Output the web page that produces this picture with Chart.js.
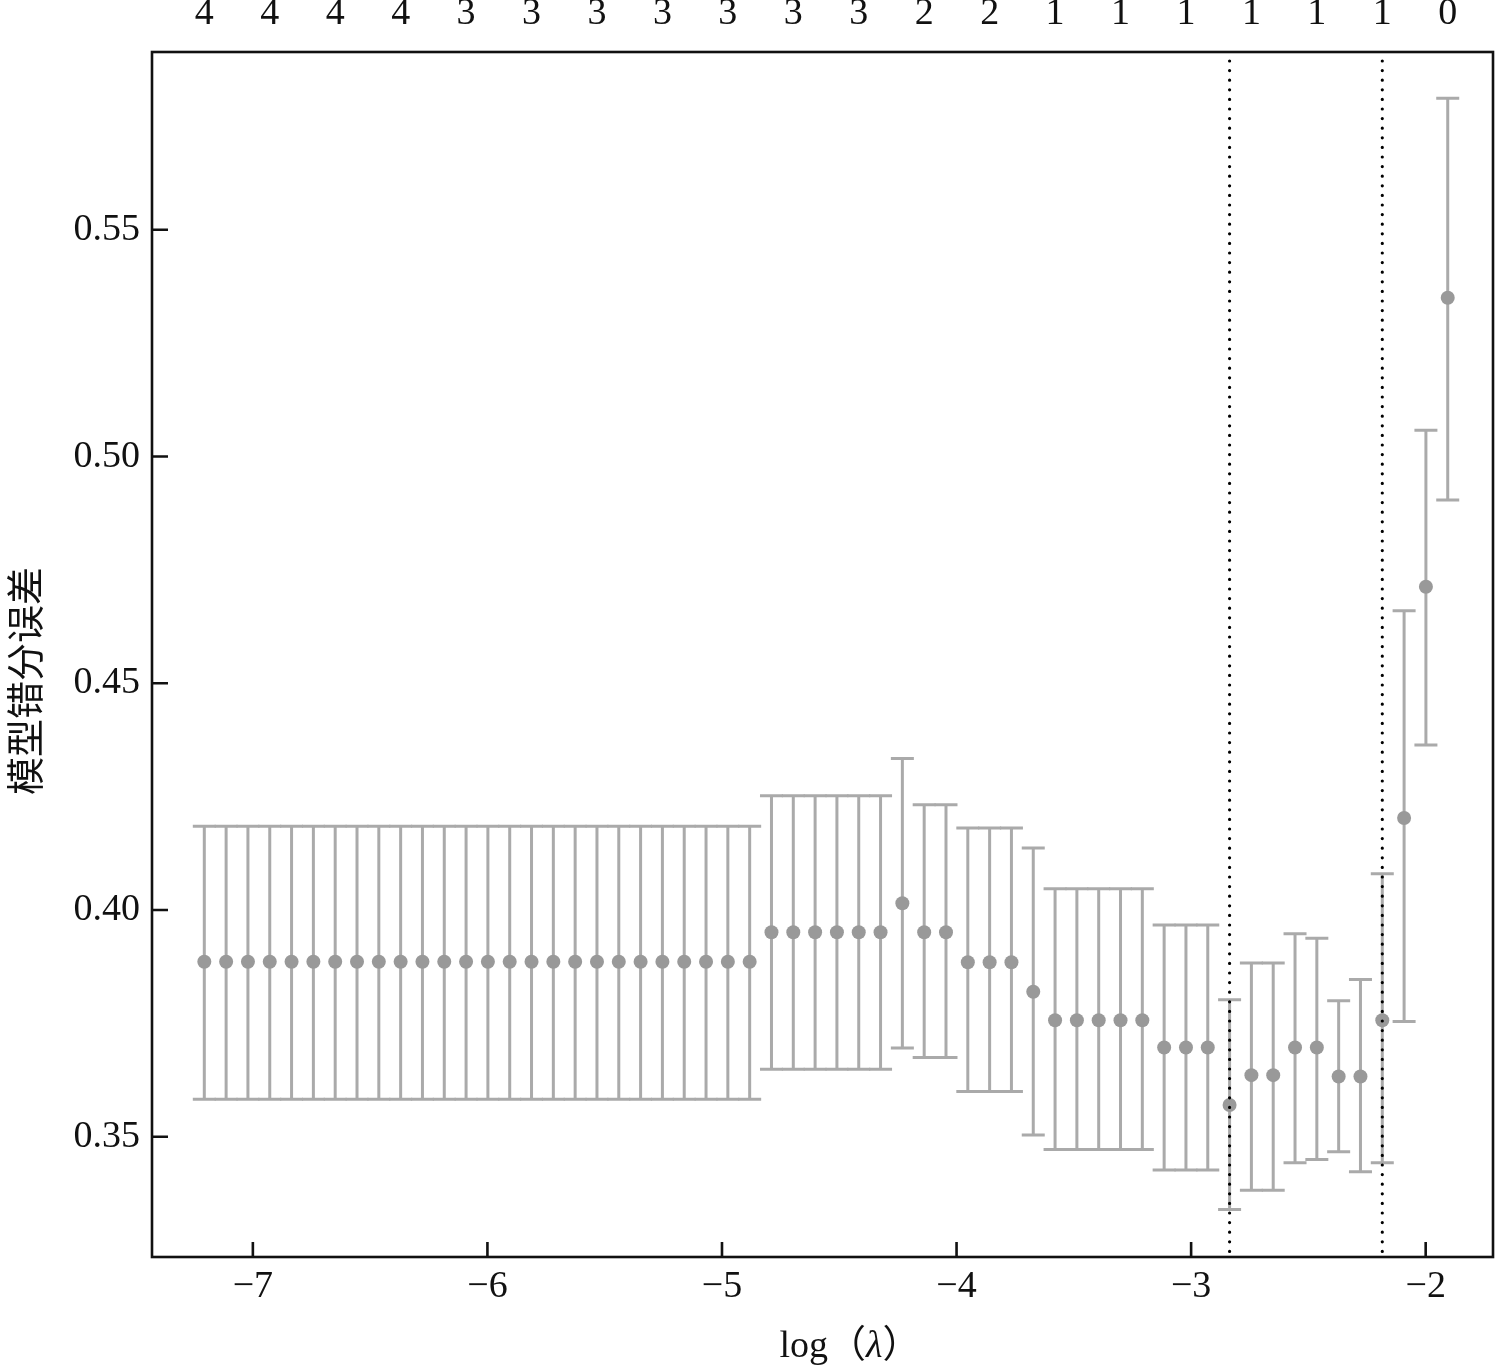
<!DOCTYPE html>
<html>
<head>
<meta charset="utf-8">
<title>cv lasso</title>
<script src="https://cdn.jsdelivr.net/npm/chart.js@4.4.0/dist/chart.umd.min.js"></script>
<style>
  html, body { margin: 0; padding: 0; background: #fff; }
  #wrap { width: 1500px; height: 1367px; }
</style>
</head>
<body>
<div id="wrap"><canvas id="cvChart"></canvas></div>
<script>
// --- Datos ---
const logLambda = [
  -7.207, -7.114, -7.021, -6.928, -6.835, -6.742, -6.649, -6.556, -6.463, -6.370,
  -6.277, -6.184, -6.091, -5.998, -5.905, -5.812, -5.719, -5.626, -5.533, -5.440,
  -5.347, -5.254, -5.161, -5.068, -4.975, -4.882, -4.789, -4.696, -4.603, -4.510,
  -4.417, -4.324, -4.231, -4.138, -4.045, -3.952, -3.859, -3.766, -3.673, -3.580,
  -3.487, -3.394, -3.301, -3.208, -3.115, -3.022, -2.929, -2.836, -2.743, -2.650,
  -2.557, -2.464, -2.371, -2.278, -2.185, -2.092, -1.999, -1.906
];
const cvMean = [
  0.3886, 0.3886, 0.3886, 0.3886, 0.3886, 0.3886, 0.3886, 0.3886, 0.3886, 0.3886,
  0.3886, 0.3886, 0.3886, 0.3886, 0.3886, 0.3886, 0.3886, 0.3886, 0.3886, 0.3886,
  0.3886, 0.3886, 0.3886, 0.3886, 0.3886, 0.3886, 0.3951, 0.3951, 0.3951, 0.3951,
  0.3951, 0.3951, 0.4015, 0.3951, 0.3951, 0.3885, 0.3885, 0.3885, 0.3820, 0.3757,
  0.3757, 0.3757, 0.3757, 0.3757, 0.3697, 0.3697, 0.3697, 0.3570, 0.3636, 0.3636,
  0.3697, 0.3697, 0.3633, 0.3633, 0.3757, 0.4203, 0.4713, 0.5350
];
const cvUpper = [
  0.4185, 0.4185, 0.4185, 0.4185, 0.4185, 0.4185, 0.4185, 0.4185, 0.4185, 0.4185,
  0.4185, 0.4185, 0.4185, 0.4185, 0.4185, 0.4185, 0.4185, 0.4185, 0.4185, 0.4185,
  0.4185, 0.4185, 0.4185, 0.4185, 0.4185, 0.4185, 0.4252, 0.4252, 0.4252, 0.4252,
  0.4252, 0.4252, 0.4334, 0.4232, 0.4232, 0.4181, 0.4181, 0.4181, 0.4137, 0.4047,
  0.4047, 0.4047, 0.4047, 0.4047, 0.3967, 0.3967, 0.3967, 0.3802, 0.3883, 0.3883,
  0.3948, 0.3938, 0.3800, 0.3847, 0.4080, 0.4660, 0.5058, 0.5790
];
const cvLower = [
  0.3583, 0.3583, 0.3583, 0.3583, 0.3583, 0.3583, 0.3583, 0.3583, 0.3583, 0.3583,
  0.3583, 0.3583, 0.3583, 0.3583, 0.3583, 0.3583, 0.3583, 0.3583, 0.3583, 0.3583,
  0.3583, 0.3583, 0.3583, 0.3583, 0.3583, 0.3583, 0.3649, 0.3649, 0.3649, 0.3649,
  0.3649, 0.3649, 0.3696, 0.3675, 0.3675, 0.3600, 0.3600, 0.3600, 0.3504, 0.3472,
  0.3472, 0.3472, 0.3472, 0.3472, 0.3427, 0.3427, 0.3427, 0.3340, 0.3382, 0.3382,
  0.3443, 0.3450, 0.3467, 0.3423, 0.3443, 0.3754, 0.4364, 0.4904
];

// eje superior: nº de variables (cada 3 lambdas)
const topTickIdx = [0, 3, 6, 9, 12, 15, 18, 21, 24, 27, 30, 33, 36, 39, 42, 45, 48, 51, 54, 57];
const topLabels  = ['4','4','4','4','3','3','3','3','3','3','3','2','2','1','1','1','1','1','1','0'];

const xTicks = [-7, -6, -5, -4, -3, -2];
const yTicks = [0.35, 0.40, 0.45, 0.50, 0.55];
const vLines = [-2.836, -2.185];   // lambda.min, lambda.1se

const X_MIN = -7.430, X_MAX = -1.713;
const Y_MIN = 0.3235, Y_MAX = 0.5892;

const serif = "'Liberation Serif', 'DejaVu Serif', serif";
const cjk = "'Noto Sans CJK SC', sans-serif";

// --- Plugins ---
const errorBars = {
  id: 'errorBars',
  beforeDatasetsDraw(chart) {
    const { ctx, scales: { x, y } } = chart;
    const cap = 11.5;
    ctx.save();
    ctx.strokeStyle = '#aaaaaa';
    ctx.lineWidth = 3;
    logLambda.forEach((v, i) => {
      const px = x.getPixelForValue(v);
      const pt = y.getPixelForValue(cvUpper[i]);
      const pb = y.getPixelForValue(cvLower[i]);
      ctx.beginPath();
      ctx.moveTo(px, pt); ctx.lineTo(px, pb);
      ctx.moveTo(px - cap, pt); ctx.lineTo(px + cap, pt);
      ctx.moveTo(px - cap, pb); ctx.lineTo(px + cap, pb);
      ctx.stroke();
    });
    ctx.restore();
  }
};

const frame = {
  id: 'frame',
  afterDatasetsDraw(chart) {
    const { ctx, chartArea: a, scales: { x } } = chart;
    // líneas punteadas verticales
    ctx.save();
    ctx.strokeStyle = '#000';
    ctx.lineWidth = 3.2;
    ctx.lineCap = 'round';
    ctx.setLineDash([0, 9.6]);
    vLines.forEach(v => {
      const px = x.getPixelForValue(v);
      ctx.beginPath();
      ctx.moveTo(px, a.top + 9);
      ctx.lineTo(px, a.bottom - 2);
      ctx.stroke();
    });
    ctx.restore();
  },
  afterDraw(chart) {
    const { ctx, chartArea: a, scales: { x, y } } = chart;
    ctx.save();
    ctx.strokeStyle = '#111';
    ctx.lineWidth = 2.6;
    ctx.strokeRect(a.left, a.top, a.right - a.left, a.bottom - a.top);
    // ticks hacia dentro
    ctx.beginPath();
    xTicks.forEach(v => {
      const px = x.getPixelForValue(v);
      ctx.moveTo(px, a.bottom); ctx.lineTo(px, a.bottom - 15);
    });
    yTicks.forEach(v => {
      const py = y.getPixelForValue(v);
      ctx.moveTo(a.left, py); ctx.lineTo(a.left + 16, py);
    });
    ctx.stroke();

    // título eje y
    ctx.fillStyle = '#111';
    ctx.save();
    ctx.translate(25, 681);
    ctx.rotate(-Math.PI / 2);
    ctx.font = `38px ${cjk}`;
    ctx.textAlign = 'center';
    ctx.textBaseline = 'middle';
    ctx.fillText('模型错分误差', 0, 0);
    ctx.restore();

    // título eje x: log（λ）
    const parts = [
      { t: 'log', f: `38px ${serif}` },
      { t: '（', f: `38px ${cjk}` },
      { t: 'λ', f: `italic 38px ${serif}` },
      { t: '）', f: `38px ${cjk}` }
    ];
    let total = 0;
    parts.forEach(p => { ctx.font = p.f; p.w = ctx.measureText(p.t).width; total += p.w; });
    let cx = 850 - total / 2;
    ctx.textBaseline = 'alphabetic';
    ctx.textAlign = 'left';
    parts.forEach(p => { ctx.font = p.f; ctx.fillText(p.t, cx, 1357); cx += p.w; });
    ctx.restore();
  }
};

// --- Chart ---
const tickFont = { family: serif, size: 38 };

new Chart(document.getElementById('cvChart'), {
  type: 'scatter',
  data: {
    datasets: [{
      label: 'CV error',
      data: logLambda.map((v, i) => ({ x: v, y: cvMean[i] })),
      pointRadius: 7,
      pointBackgroundColor: '#999999',
      pointBorderWidth: 0,
      showLine: false
    }]
  },
  options: {
    responsive: true,
    maintainAspectRatio: false,
    animation: false,
    events: [],
    layout: { padding: { left: 0, right: 2, top: 0, bottom: 0 } },
    plugins: { legend: { display: false }, tooltip: { enabled: false } },
    scales: {
      x: {
        type: 'linear', position: 'bottom', min: X_MIN, max: X_MAX,
        afterBuildTicks: s => { s.ticks = xTicks.map(v => ({ value: v })); },
        afterFit: s => { s.height = 110; },
        grid: { display: false, drawTicks: false },
        border: { display: false },
        ticks: {
          color: '#111', font: tickFont, padding: 7, maxRotation: 0,
          callback: v => '−' + Math.abs(v)
        }
      },
      x2: {
        type: 'linear', position: 'top', min: X_MIN, max: X_MAX,
        afterBuildTicks: s => { s.ticks = topTickIdx.map(i => ({ value: logLambda[i] })); },
        afterFit: s => { s.height = 52; },
        grid: { display: false, drawTicks: false },
        border: { display: false },
        ticks: {
          color: '#111', font: tickFont, padding: 15, maxRotation: 0, autoSkip: false,
          callback: (v, i) => topLabels[i]
        }
      },
      y: {
        type: 'linear', position: 'left', min: Y_MIN, max: Y_MAX,
        afterBuildTicks: s => { s.ticks = yTicks.map(v => ({ value: v })); },
        afterFit: s => { s.width = 152; },
        grid: { display: false, drawTicks: false },
        border: { display: false },
        ticks: {
          color: '#111', font: tickFont, padding: 12,
          callback: v => v.toFixed(2)
        }
      }
    }
  },
  plugins: [errorBars, frame]
});
</script>
</body>
</html>
